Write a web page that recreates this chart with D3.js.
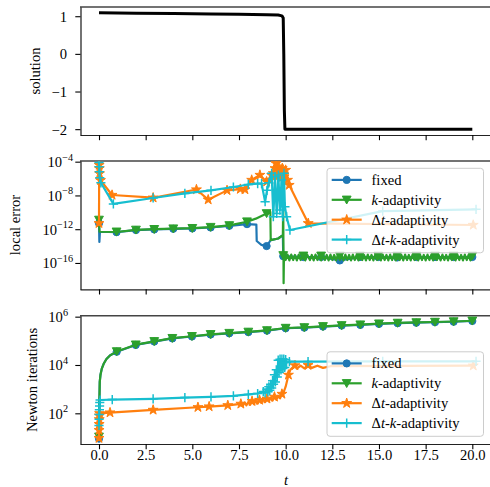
<!DOCTYPE html>
<html><head><meta charset="utf-8">
<script src="https://cdn.jsdelivr.net/npm/d3@7"></script>
<style>
body{margin:0;background:#fff}
svg text{font-family:"Liberation Serif","DejaVu Serif",serif;fill:#000}
</style>
</head><body>
<svg id="c" width="490" height="487"></svg>
<script>
// ---------------- data ----------------
const tTicks = [0, 2.5, 5, 7.5, 10, 12.5, 15, 17.5, 20];
const tTickLabels = ["0.0", "2.5", "5.0", "7.5", "10.0", "12.5", "15.0", "17.5", "20.0"];
const solTicks = [-2, -1, 0, 1];
const solTickLabels = ["\u22122", "\u22121", "0", "1"];
const errTickExps = [-16, -12, -8, -4];
const newtonTickExps = [2, 4, 6];
const seriesColors = ["#1f77b4", "#2ca02c", "#ff7f0e", "#17becf"];
const seriesShapes = ["o", "v", "*", "+"];

// solution [t, u]
const solution = [[0,1.09],[2,1.08],[4,1.07],[6,1.06],[7.5,1.05],[9,1.04],[9.6,1.03],[9.8,1.01],[9.87,0.95],[9.9,0],[9.93,-1.5],[9.96,-2.0],[20,-2.0]];

// local error [t, log10(err)]
const errFixed = [[0,-11.3],[0.02,-13.5],[0.05,-12.3],[0.94,-12.35],[1.98,-12.1],[2.96,-12.03],[3.98,-11.95],[5.0,-11.91],[5.98,-11.8],[6.98,-11.6],[7.93,-11.4],[8.43,-11.45],[8.45,-13.4],[8.7,-13.85],[8.98,-14.0],[9.2,-13.3],[9.6,-13.1],[9.85,-12.7],[9.87,-15.2],[10.95,-15.3],[11.9,-15.3],[12.9,-15.7],[13.98,-15.3],[14.96,-15.3],[15.98,-15.35],[17,-15.3],[18,-15.3],[19,-15.3],[20,-15.3]];
const errFixedMarks = [[0,-11.3],[0.94,-12.35],[1.98,-12.1],[2.96,-12.03],[3.98,-11.95],[5.0,-11.91],[5.98,-11.8],[6.98,-11.6],[7.93,-11.4],[8.98,-14.0],[9.87,-15.2],[10.95,-15.3],[11.9,-15.3],[12.9,-15.7],[13.98,-15.3],[14.96,-15.3],[15.98,-15.35],[17,-15.3],[18,-15.3],[19,-15.3],[20,-15.3]];
const errK = [[0,-10.9],[0.03,-12.3],[0.94,-12.33],[1.98,-12.08],[2.96,-12.0],[3.98,-11.93],[5.0,-11.88],[5.98,-11.75],[6.98,-11.55],[7.93,-11.12],[8.4,-10.75],[8.98,-10.13],[9.18,-9.95],[9.2,-13.3],[9.6,-13.1],[9.85,-12.7],[9.87,-8.6],[9.89,-18.4],[9.91,-15.0],
  [10.0,-15.65],[10.1,-15.0],[10.2,-15.7],[10.3,-15.0],[10.4,-15.65],[10.5,-15.05],[10.6,-15.7],[10.7,-15.0],[10.8,-15.65],[10.95,-15.1],[11.05,-15.7],[11.15,-15.0],[11.3,-15.65],[11.4,-15.05],[11.5,-15.7],[11.6,-15.0],[11.7,-15.65],[11.8,-15.05],[11.9,-15.7],[12.0,-15.0],[12.1,-15.65],[12.2,-15.05],[12.3,-15.7],[12.4,-15.0],[12.5,-15.65],[12.6,-15.05],[12.7,-15.7],[12.8,-15.0],[12.9,-15.65],[13.0,-15.05],[13.1,-15.7],[13.2,-15.0],[13.3,-15.65],[13.4,-15.05],[13.5,-15.7],[13.6,-15.0],[13.7,-15.65],[13.8,-15.05],[13.9,-15.7],[14.0,-15.0],[14.1,-15.65],[14.2,-15.05],[14.3,-15.7],[14.4,-15.0],[14.5,-15.65],[14.6,-15.05],[14.7,-15.7],[14.8,-15.0],[14.9,-15.65],[15.0,-15.05],[15.1,-15.7],[15.2,-15.0],[15.3,-15.65],[15.4,-15.05],[15.5,-15.7],[15.6,-15.0],[15.7,-15.65],[15.8,-15.05],[15.9,-15.7],[16.0,-15.0],[16.1,-15.65],[16.2,-15.05],[16.3,-15.7],[16.4,-15.0],[16.5,-15.65],[16.6,-15.05],[16.7,-15.7],[16.8,-15.0],[16.9,-15.65],[17.0,-15.05],[17.1,-15.7],[17.2,-15.0],[17.3,-15.65],[17.4,-15.05],[17.5,-15.7],[17.6,-15.0],[17.7,-15.65],[17.8,-15.05],[17.9,-15.7],[18.0,-15.0],[18.1,-15.65],[18.2,-15.05],[18.3,-15.7],[18.4,-15.0],[18.5,-15.65],[18.6,-15.05],[18.7,-15.7],[18.8,-15.0],[18.9,-15.65],[19.0,-15.05],[19.1,-15.7],[19.2,-15.0],[19.3,-15.65],[19.4,-15.05],[19.5,-15.7],[19.6,-15.0],[19.7,-15.65],[19.8,-15.05],[19.9,-15.7],[20.0,-15.3]];
const errKMarks = [[0,-10.9],[0.94,-12.3],[1.98,-12.08],[2.96,-12.0],[3.98,-11.93],[5.0,-11.88],[5.98,-11.75],[6.98,-11.55],[7.93,-11.1],[8.98,-10.13],[9.87,-15.1],[10.95,-15.15],[11.9,-15.15],[12.9,-15.15],[13.98,-15.15],[14.96,-15.15],[15.98,-15.15],[17,-15.15],[18,-15.15],[19,-15.15],[20,-15.15]];
const errDt = [[0,-11.3],[0.01,-4.4],[0.02,-4.8],[0.03,-5.4],[0.08,-6.2],[0.7,-7.95],[2.9,-8.27],[5.22,-7.3],[5.85,-8.5],[6.86,-7.4],[7.57,-7.25],[7.82,-7.3],[8.18,-6.17],[8.62,-5.58],[8.98,-6.37],[9.16,-6.17],[9.25,-5.6],[9.34,-5.38],[9.43,-4.79],[9.48,-4.2],[9.55,-5.78],[9.64,-4.6],[9.73,-5.97],[9.82,-4.79],[9.91,-5.78],[10.0,-4.99],[10.1,-6.17],[10.19,-6.77],[11.21,-11.3],[20.05,-11.5]];
const errDtk = [[0,-4.1],[0.01,-4.6],[0.02,-5.2],[0.04,-5.9],[0.1,-6.5],[0.77,-9.0],[2.9,-8.3],[4.6,-7.76],[6.0,-7.4],[7.2,-7.0],[8.0,-6.7],[8.5,-6.6],[8.71,-6.6],[8.9,-8.75],[9.0,-7.4],[9.1,-6.5],[9.25,-5.38],[9.34,-10.52],[9.43,-5.78],[9.52,-10.13],[9.61,-5.58],[9.69,-9.73],[9.78,-6.17],[9.84,-10.52],[9.91,-5.38],[9.96,-9.34],[10.05,-10.52],[10.23,-12.1],[15.2,-9.85],[20.2,-9.65]];

// Newton iterations [t, log10(count)]
const newtonFixed = [[0,0.95],[0.02,2.5],[0.04,3.3],[0.08,3.6],[0.15,3.85],[0.25,4.05],[0.4,4.25],[0.6,4.4],[0.95,4.55],[1.97,4.83],[2.96,4.97],[3.93,5.1],[4.98,5.18],[5.98,5.26],[6.98,5.31],[8.0,5.36],[9.0,5.42],[10.0,5.52],[11.0,5.545],[12.0,5.59],[13.0,5.63],[14.0,5.66],[15.0,5.70],[16.0,5.73],[17.0,5.75],[18.0,5.77],[19.0,5.79],[20.0,5.82]];
const newtonFixedMarks = [[0,0.95],[0.95,4.55],[1.97,4.83],[2.96,4.97],[3.93,5.1],[4.98,5.18],[5.98,5.26],[6.98,5.31],[8.0,5.36],[9.0,5.42],[10.0,5.52],[11.0,5.545],[12.0,5.59],[13.0,5.63],[14.0,5.66],[15.0,5.70],[16.0,5.73],[17.0,5.75],[18.0,5.77],[19.0,5.79],[20.0,5.82]];
const newtonK = [[0,1.03],[0.02,2.5],[0.04,3.3],[0.08,3.6],[0.15,3.85],[0.25,4.05],[0.4,4.25],[0.6,4.4],[0.95,4.56],[1.97,4.84],[2.96,4.98],[3.93,5.11],[4.98,5.19],[5.98,5.27],[6.98,5.32],[8.0,5.37],[9.0,5.43],[10.0,5.53],[11.0,5.555],[12.0,5.6],[13.0,5.64],[14.0,5.67],[15.0,5.71],[16.0,5.74],[17.0,5.76],[18.0,5.78],[19.0,5.8],[20.0,5.83]];
const newtonKMarks = [[0,1.03],[0.95,4.56],[1.97,4.84],[2.96,4.98],[3.93,5.11],[4.98,5.19],[5.98,5.27],[6.98,5.32],[8.0,5.37],[9.0,5.43],[10.0,5.53],[11.0,5.555],[12.0,5.6],[13.0,5.64],[14.0,5.67],[15.0,5.71],[16.0,5.74],[17.0,5.76],[18.0,5.78],[19.0,5.8],[20.0,5.83]];
const newtonDt = [[0,0.97],[0.005,1.3],[0.01,1.55],[0.015,1.75],[0.02,1.9],[0.03,2.0],[0.59,2.03],[2.9,2.14],[5.3,2.25],[5.9,2.28],[6.9,2.33],[7.6,2.39],
  [7.7,2.3],[7.8,2.45],[7.9,2.33],[8.0,2.47],[8.1,2.35],[8.2,2.5],[8.3,2.38],[8.4,2.52],[8.5,2.4],[8.6,2.55],[8.7,2.43],[8.8,2.58],[8.9,2.46],[9.0,2.6],[9.1,2.5],[9.2,2.64],[9.3,2.53],[9.4,2.68],[9.5,2.57],[9.6,2.72],[9.7,2.62],[9.8,2.8],[9.87,2.83],[10.0,3.1],[10.15,3.59],[10.25,3.8],[10.32,3.86],[10.5,3.98],[10.6,3.85],[10.8,3.97],[11.0,3.86],[11.2,3.99],[11.4,3.88],[11.7,3.97],[12.0,3.88],[12.4,3.95],[20.05,3.97]];
const newtonDtMarks = [[0,0.97],[0.005,1.3],[0.01,1.55],[0.015,1.75],[0.02,1.9],[0.03,2.0],[0.59,2.03],[2.9,2.14],[5.3,2.25],[5.9,2.28],[6.9,2.33],[7.6,2.39],[8.2,2.5],[8.6,2.55],[9.0,2.6],[9.4,2.68],[9.8,2.8],[10.15,3.59],[10.5,3.98],[11.2,3.99],[20.05,3.97]];
const newtonDtk = [[0,1.5],[0.005,1.75],[0.01,1.95],[0.02,2.15],[0.03,2.3],[0.04,2.45],[0.06,2.55],[0.71,2.57],[2.9,2.6],[4.6,2.65],[6.0,2.68],[7.2,2.72],[8.0,2.78],[8.5,2.82],[8.8,2.9],[8.9,2.85],[9.0,3.0],[9.05,2.9],[9.1,3.1],[9.15,2.95],[9.2,3.2],[9.25,3.05],[9.3,3.35],[9.35,3.2],[9.4,3.6],[9.45,3.3],[9.5,3.8],[9.55,3.5],[9.6,4.2],[9.65,3.7],[9.7,4.24],[9.75,3.8],[9.8,4.24],[9.85,3.85],[9.9,4.24],[9.95,3.9],[10.0,4.22],[10.05,4.1],[10.2,4.14],[11.2,4.14],[15.2,4.15],[20.2,4.15]];

// ---------------- drawing ----------------
const svg = d3.select("#c");
const L = 80, R = 492;
const x = d3.scaleLinear().domain([-1.018, 21.055]).range([L, R]);
const P = [{top: 7, bot: 135}, {top: 161, bot: 289.3}, {top: 315.7, bot: 444}];
const y1 = d3.scaleLinear().domain([-2.155, 1.245]).range([P[0].bot, P[0].top]);
const y2 = d3.scaleLog().domain([Math.pow(10, -19.12), Math.pow(10, -3.92)]).range([P[1].bot, P[1].top]);
const y3 = d3.scaleLog().domain([Math.pow(10, 0.73), Math.pow(10, 6.04)]).range([P[2].bot, P[2].top]);
const FS = 14.6;
const FF = "Liberation Serif, DejaVu Serif, serif";

P.forEach((p, i) => {
  svg.append("clipPath").attr("id", "clip" + i).append("rect")
    .attr("x", L).attr("y", p.top).attr("width", R - L).attr("height", p.bot - p.top);
});

function markerPath(shape) {
  if (shape === "o") return d3.symbol(d3.symbolCircle, Math.PI * 3.6 * 3.6)();
  if (shape === "v") return "M-4.4,-3.7L4.4,-3.7L0,4.2Z";
  if (shape === "+") return "M-4.6,0H4.6M0,-4.6V4.6";
  const ro = 5.2, ri = ro * 0.382; let s = "";
  for (let k = 0; k < 10; k++) {
    const r = k % 2 ? ri : ro, a = -Math.PI / 2 + k * Math.PI / 5;
    s += (k ? "L" : "M") + (r * Math.cos(a)).toFixed(2) + "," + (r * Math.sin(a)).toFixed(2);
  }
  return s + "Z";
}
function styleMarker(sel, shape, color) {
  if (shape === "+") sel.attr("fill", "none").attr("stroke", color).attr("stroke-width", 1.5);
  else sel.attr("fill", color).attr("stroke", color).attr("stroke-width", 1).attr("stroke-linejoin", "miter");
}

function drawSeries(g, yfun, line, marks, color, shape) {
  g.append("path").datum(line)
    .attr("d", d3.line().x(d => x(d[0])).y(yfun))
    .attr("fill", "none").attr("stroke", color).attr("stroke-width", 2.2)
    .attr("stroke-linejoin", "round").attr("stroke-linecap", "square");
  const mp = markerPath(shape);
  g.selectAll(null).data(marks).enter().append("path")
    .attr("d", mp)
    .attr("transform", d => `translate(${x(d[0])},${yfun(d)})`)
    .call(styleMarker, shape, color);
}

function frame(i, yScale, ticks, labelFn, rightEdge) {
  const p = P[i];
  svg.append("line").attr("x1", L).attr("x2", R).attr("y1", p.top).attr("y2", p.top)
    .attr("stroke", "#444").attr("stroke-width", 1.4);
  const gx = svg.append("g").attr("transform", `translate(0,${p.bot})`)
    .call(d3.axisBottom(x).tickValues(tTicks).tickSize(5.2).tickSizeOuter(0)
      .tickFormat((d, k) => i === 2 ? tTickLabels[k] : ""));
  gx.attr("font-family", FF);
  gx.select(".domain").attr("stroke", "#222").attr("stroke-width", 1.2);
  gx.selectAll(".tick line").attr("stroke", "#000").attr("stroke-width", 1.1);
  gx.selectAll(".tick text").attr("font-size", FS).attr("dy", null).attr("y", 16.2);
  const gy = svg.append("g").attr("transform", `translate(${L + 0.5},0)`)
    .call(d3.axisLeft(yScale).tickValues(ticks).tickSize(5.2).tickSizeOuter(0).tickFormat(""));
  gy.attr("font-family", FF);
  gy.select(".domain").attr("stroke", "#000").attr("stroke-width", 1.1);
  gy.selectAll(".tick line").attr("stroke", "#000").attr("stroke-width", 1.1);
  gy.selectAll(".tick").each(function (d, k) {
    const t = d3.select(this).append("text").attr("x", rightEdge - L - 0.5).attr("y", 5)
      .attr("text-anchor", "end").attr("font-size", FS);
    labelFn(t, k);
  });
}

function supLabel(exps) {
  return (t, k) => {
    t.append("tspan").text("10");
    const e = exps[k];
    t.append("tspan").attr("font-size", FS * 0.7).attr("dy", -6.5)
      .text(e < 0 ? "\u2212" + (-e) : String(e));
  };
}

const exp10 = v => Math.pow(10, v);

// panel 1
frame(0, y1, solTicks, (t, k) => t.text(solTickLabels[k]), 67);
const g1 = svg.append("g").attr("clip-path", "url(#clip0)");
g1.append("path").datum(solution)
  .attr("d", d3.line().x(d => x(d[0])).y(d => y1(d[1])))
  .attr("fill", "none").attr("stroke", "#000").attr("stroke-width", 3)
  .attr("stroke-linejoin", "round").attr("stroke-linecap", "butt");

// panel 2
frame(1, y2, errTickExps.map(exp10), supLabel(errTickExps), 73);
const g2 = svg.append("g").attr("clip-path", "url(#clip1)");
const yf2 = d => y2(exp10(d[1]));
drawSeries(g2, yf2, errFixed, errFixedMarks, seriesColors[0], seriesShapes[0]);
drawSeries(g2, yf2, errK, errKMarks, seriesColors[1], seriesShapes[1]);
drawSeries(g2, yf2, errDt, errDt, seriesColors[2], seriesShapes[2]);
drawSeries(g2, yf2, errDtk, errDtk, seriesColors[3], seriesShapes[3]);

// panel 3
frame(2, y3, newtonTickExps.map(exp10), supLabel(newtonTickExps), 68);
const g3 = svg.append("g").attr("clip-path", "url(#clip2)");
const yf3 = d => y3(exp10(d[1]));
drawSeries(g3, yf3, newtonFixed, newtonFixedMarks, seriesColors[0], seriesShapes[0]);
drawSeries(g3, yf3, newtonK, newtonKMarks, seriesColors[1], seriesShapes[1]);
drawSeries(g3, yf3, newtonDt, newtonDtMarks, seriesColors[2], seriesShapes[2]);
drawSeries(g3, yf3, newtonDtk, newtonDtk, seriesColors[3], seriesShapes[3]);

// axis labels
function ylab(xb, yc, txt) {
  svg.append("text").attr("transform", `translate(${xb},${yc}) rotate(-90)`)
    .attr("text-anchor", "middle").attr("font-size", FS).text(txt);
}
ylab(39.5, 71, "solution");
ylab(20, 225, "local error");
ylab(36.5, 380, "Newton iterations");
svg.append("text").attr("x", 286).attr("y", 484.5).attr("text-anchor", "middle")
  .attr("font-size", FS).attr("font-style", "italic").text("t");

// legends
const legendParts = [
  [["fixed", 0]],
  [["k", 1], ["-adaptivity", 0]],
  [["\u0394", 0], ["t", 1], ["-adaptivity", 0]],
  [["\u0394", 0], ["t", 1], ["-", 0], ["k", 1], ["-adaptivity", 0]]
];
function legend(top) {
  const g = svg.append("g");
  g.append("rect").attr("x", 327).attr("y", top).attr("width", 156.5).attr("height", 84.5)
    .attr("rx", 3).attr("fill", "#fff").attr("fill-opacity", 0.8)
    .attr("stroke", "#cccccc").attr("stroke-width", 1);
  legendParts.forEach((parts, i) => {
    const cy = top + 11.6 + i * 19.9;
    g.append("line").attr("x1", 331.7).attr("x2", 361.7).attr("y1", cy).attr("y2", cy)
      .attr("stroke", seriesColors[i]).attr("stroke-width", 2.2);
    g.append("path").attr("d", markerPath(seriesShapes[i]))
      .attr("transform", `translate(346.7,${cy})`).call(styleMarker, seriesShapes[i], seriesColors[i]);
    const t = g.append("text").attr("x", 371.5).attr("y", cy + 5).attr("font-size", FS);
    parts.forEach(([s, it]) => t.append("tspan").attr("font-style", it ? "italic" : "normal").text(s));
  });
}
legend(168.3);
legend(351.8);
</script>
</body></html>
